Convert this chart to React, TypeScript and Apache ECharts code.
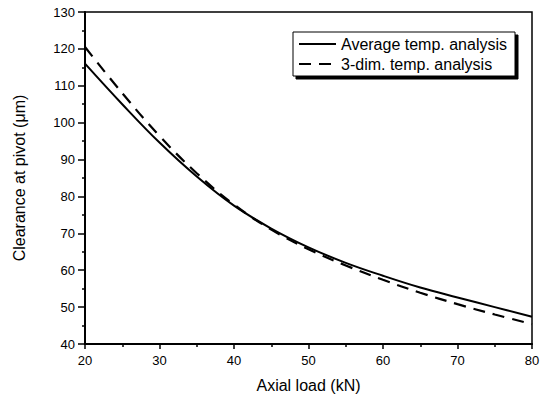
import React, { useEffect, useRef } from "react";
import * as echarts from "echarts";

const axialLoad = [20, 25, 30, 35, 40, 45, 50, 55, 60, 65, 70, 75, 80];
const averageTemp = [116, 105.0, 94.6, 85.4, 77.5, 71.3, 66.2, 62.0, 58.5, 55.3, 52.6, 50.0, 47.4];
const threeDimTemp = [120.5, 108.0, 96.4, 86.3, 77.8, 71.0, 65.7, 61.3, 57.4, 53.9, 50.8, 48.0, 45.4];
const seriesNames = ["Average temp. analysis", "3-dim. temp. analysis"];

const FONT = "'Liberation Sans', Arial, Helvetica, sans-serif";

export default function App() {
  const ref = useRef<HTMLDivElement>(null);
  useEffect(() => {
    if (!ref.current) return;
    const chart = echarts.init(ref.current, undefined, { renderer: "svg" });
    const pair = (ys: number[]) => axialLoad.map((x, i) => [x, ys[i]]);
    chart.setOption({
      animation: false,
      backgroundColor: "#fff",
      textStyle: { fontFamily: FONT, color: "#000" },
      grid: {
        left: 85,
        right: 17,
        top: 12,
        bottom: 55,
        show: true,
        borderColor: "#000",
        borderWidth: 1.5,
        backgroundColor: "transparent",
      },
      legend: {
        orient: "vertical",
        left: 293,
        top: 32,
        padding: [4, 8, 4, 5],
        itemWidth: 37,
        itemHeight: 14,
        itemGap: 4,
        backgroundColor: "#fff",
        borderColor: "#000",
        borderWidth: 1,
        shadowColor: "#000",
        shadowBlur: 0,
        shadowOffsetX: 3,
        shadowOffsetY: 3,
        itemStyle: { opacity: 0 },
        textStyle: { fontFamily: FONT, fontSize: 16, color: "#000" },
        data: seriesNames,
      },
      xAxis: {
        type: "value",
        min: 20,
        max: 80,
        interval: 10,
        name: "Axial load (kN)",
        nameLocation: "middle",
        nameGap: 33,
        nameTextStyle: { fontFamily: FONT, fontSize: 16, color: "#000" },
        axisLine: { show: true, lineStyle: { color: "#000", width: 2 } },
        axisTick: { show: true, inside: false, length: 5, lineStyle: { color: "#000", width: 1.5 } },
        minorTick: { show: true, splitNumber: 2, length: 3, lineStyle: { color: "#000", width: 1.5 } },
        axisLabel: { fontFamily: FONT, fontSize: 13, color: "#000", margin: 10 },
        splitLine: { show: false },
      },
      yAxis: {
        type: "value",
        min: 40,
        max: 130,
        interval: 10,
        name: "Clearance at pivot (\u03bcm)",
        nameLocation: "middle",
        nameGap: 58,
        nameTextStyle: { fontFamily: FONT, fontSize: 16, color: "#000" },
        axisLine: { show: true, lineStyle: { color: "#000", width: 2 } },
        axisTick: { show: true, inside: false, length: 7, lineStyle: { color: "#000", width: 1.5 } },
        minorTick: { show: true, splitNumber: 2, length: 3, lineStyle: { color: "#000", width: 1.5 } },
        axisLabel: { fontFamily: FONT, fontSize: 13, color: "#000", margin: 10 },
        splitLine: { show: false },
      },
      series: [
        {
          name: seriesNames[0],
          type: "line",
          data: pair(averageTemp),
          smooth: 0.4,
          symbol: "none",
          lineStyle: { color: "#000", width: 2, type: "solid" },
          itemStyle: { color: "#000" },
        },
        {
          name: seriesNames[1],
          type: "line",
          data: pair(threeDimTemp),
          smooth: 0.4,
          symbol: "none",
          lineStyle: { color: "#000", width: 2.2, type: [12, 8] },
          itemStyle: { color: "#000" },
        },
      ],
    });
    return () => chart.dispose();
  }, []);
  return <div ref={ref} style={{ width: 549, height: 399, position: "absolute", left: 0, top: 0 }} />;
}
